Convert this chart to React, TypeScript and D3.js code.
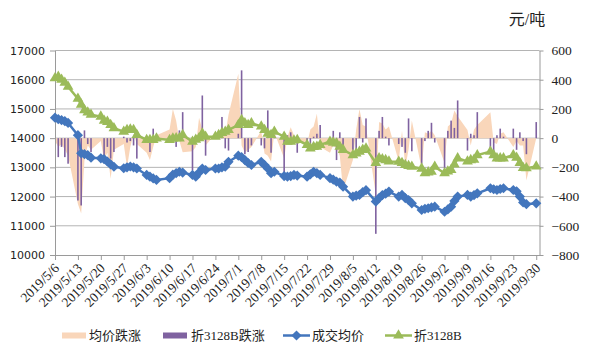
import React, { useEffect, useRef } from 'react';
import * as d3 from 'd3';

// trading days 2019/5/6 - 2019/9/30 (weekdays, minus holidays)
const startDate = new Date(2019, 4, 6);
const endDate = new Date(2019, 8, 30);
const holidays = ['2019-06-07', '2019-09-13'];
const fmtKey = d3.timeFormat('%Y-%m-%d');
const tradeDays = d3.timeDay
  .range(startDate, d3.timeDay.offset(endDate, 1))
  .filter((d) => d.getDay() !== 0 && d.getDay() !== 6 && !holidays.includes(fmtKey(d)));

// weekly tick labels
const tickDates = d3.timeMonday.range(startDate, d3.timeDay.offset(endDate, 1));

const leftTicks = [10000, 11000, 12000, 13000, 14000, 15000, 16000, 17000];
const rightTicks = [-800, -600, -400, -200, 0, 200, 400, 600];

// 成交均价 (left axis)
const avgPrice = [
  14700, 14650, 14620, 14580, 14520,
  14100, 13480, 13450, 13420, 13330,
  13310, 13280, 13200, 13100, 13020,
  12970, 13000, 13030, 13000, 12960,
  12740, 12680, 12620, 12570,
  12630, 12750, 12800, 12850, 12820,
  12740, 12680, 12820, 12960, 12910,
  12960, 12960, 13000, 13020, 13190,
  13400, 13350, 13250, 13150, 13080,
  13190, 13080, 12960, 12800, 12850,
  12700, 12680, 12700, 12740, 12720,
  12680, 12760, 12850, 12800, 12740,
  12630, 12580, 12510, 12480, 12340,
  12000, 12030, 12055, 12150, 12220,
  11830, 11950, 12050, 12100, 12170,
  12000, 12055, 11950, 11880, 11770,
  11540, 11580, 11600, 11630, 11655,
  11480, 11560, 11655, 11850, 12000,
  12055, 12000, 12050, 12110,
  12285, 12250, 12225, 12260, 12285,
  12225, 12180, 12000, 11800, 11740,
  11770,
];

// 折3128B (left axis)
const zhe3128B = [
  16050, 16100, 16000, 15900, 15760,
  15350, 15150, 14960, 14880, 14800,
  14740, 14600, 14560, 14450, 14340,
  14220, 14280, 14300, 14280, 14110,
  13940, 13940, 13940, 13990,
  13940, 13990, 14000, 13995, 14110,
  13880, 13950, 14000, 14160, 14050,
  14050, 14110, 14180, 14220, 14280,
  14450, 14620, 14510, 14450, 14510,
  14400, 14280, 14150, 14110, 14220,
  14050, 13880, 13880, 13920, 13940,
  13770, 13650, 13700, 13710, 13770,
  13880, 13850, 13820, 13710, 13600,
  13420, 13480, 13540, 13600, 13650,
  13150, 13310, 13280, 13250, 13200,
  13195, 13150, 13080, 13050, 13020,
  12960, 12800, 12830, 12850, 13020,
  12800, 12860, 12910, 13100, 13310,
  13200, 13250, 13260, 13420,
  13540, 13420, 13310, 13310, 13310,
  13420, 13330, 13150, 12980, 12970,
  13030,
];

// 均价跌涨 (right axis, area)
const avgChange = [
  -20, -60, -40, -80, -120,
  -450, -516, -150, -50, -80,
  -20, -150, -100, -278, -80,
  -40, -200, -60, 30, -40,
  -100, -150, -60, 20,
  60, 200, 120, -20, -96,
  -90, -60, 140, 60, -50,
  30, 10, 40, 20, 160,
  441, -50, -100, -80, -60,
  50, -105, -120, -160, 40,
  -140, 10, 75, 20, -30,
  -40, 60, 80, 167, -60,
  -100, -50, -70, -120, -358,
  -150, 60, 200, 90, 80,
  -390, 110, 100, 60, 80,
  -160, 50, -200, -80, 120,
  -210, 40, 30, 50, 20,
  -170, 80, 100, 190, 150,
  55, -50, 60, 90,
  178, -30, -40, 30, 40,
  -60, -20, -50, -50, -290,
  0,
];

// 折3128B跌涨 (right axis, bars)
const zheChange = [
  0, -130, -60, -130, -175,
  -427, -461, 53, -40, -95,
  0, -120, -60, -140, -95,
  10, -30, -20, -50, -140,
  0, -95, 65, 10,
  0, 10, -60, 53, 178,
  -221, 20, 30, 292, -120,
  0, 20, 145, -70, -85,
  30, 464, -110, -95, -50,
  -50, -70, 190, -100, 20,
  -240, 20, 40, -30, -100,
  -35, -50, 10, 30, 90,
  -40, 50, -150, 40, -60,
  -80, -100, 145, -30, 135,
  -655, 50, 145, 10, -50,
  -40, -60, -100, 135, -90,
  -176, -20, 50, 105, -30,
  -208, 50, 120, 70, 258,
  -85, 30, 20, 178,
  -100, -110, 20, 65, 10,
  65, -80, 40, -20, -110,
  110,
];

const BLUE = '#4376BD';
const GREEN = '#9BBB59';
const PURPLE = '#7F62A0';
const PEACH = '#F9D6BA';
const AXIS = '#9a9a9a';
const GRID = '#b4b4b4';
const SERIF = '"Liberation Serif", "Noto Sans CJK SC", serif';

const App: React.FC = () => {
  const svgRef = useRef<SVGSVGElement>(null);
  const width = 589;
  const height = 354;

  useEffect(() => {
    if (!svgRef.current) return;
    const svg = d3.select(svgRef.current);
    svg.selectAll('*').remove();

    const left = 55, right = 539.5, top = 50.5, bottom = 255;

    const x = d3.scaleTime().domain([startDate, new Date(2019, 9, 1)]).range([left, right]);
    const yL = d3.scaleLinear().domain([10000, 17000]).range([bottom, top]);
    const yR = d3.scaleLinear().domain([-800, 600]).range([bottom, top]);

    // gridlines
    svg.append('g')
      .selectAll('line')
      .data(leftTicks.slice(1))
      .enter()
      .append('line')
      .attr('x1', left)
      .attr('x2', right)
      .attr('y1', (d) => yL(d))
      .attr('y2', (d) => yL(d))
      .attr('stroke', GRID)
      .attr('stroke-width', 1);

    // area 均价跌涨
    const area = d3.area<number>()
      .x((_, i) => x(tradeDays[i]))
      .y0(yR(0))
      .y1((d) => yR(d));
    svg.append('path')
      .datum(avgChange)
      .attr('fill', PEACH)
      .attr('d', area);

    // bars 折3128B跌涨
    svg.append('g')
      .selectAll('rect')
      .data(zheChange)
      .enter()
      .append('rect')
      .attr('x', (_, i) => x(tradeDays[i]) - 0.8)
      .attr('width', 1.6)
      .attr('y', (d) => Math.min(yR(d), yR(0)))
      .attr('height', (d) => Math.abs(yR(d) - yR(0)))
      .attr('fill', PURPLE);

    // axes
    const leftAxis = svg.append('g')
      .attr('transform', `translate(${left},0)`)
      .call(d3.axisLeft(yL).tickValues(leftTicks).tickFormat(d3.format('d')).tickSize(5).tickSizeOuter(0).tickPadding(5));
    leftAxis.select('.domain').attr('stroke', AXIS);
    leftAxis.selectAll('.tick line').attr('stroke', AXIS);
    leftAxis.selectAll('.tick text')
      .attr('fill', '#222')
      .attr('font-size', '11px')
      .attr('font-family', '"DejaVu Sans", sans-serif');

    const rightAxis = svg.append('g')
      .attr('transform', `translate(${right},0)`)
      .call(d3.axisRight(yR).tickValues(rightTicks).tickSize(4).tickSizeOuter(0).tickPadding(8));
    rightAxis.select('.domain').attr('stroke', AXIS);
    rightAxis.selectAll('.tick line').attr('stroke', AXIS);
    rightAxis.selectAll('.tick text')
      .attr('fill', '#222')
      .attr('font-size', '13.5px')
      .attr('font-family', SERIF);

    const bottomAxis = svg.append('g')
      .attr('transform', `translate(0,${bottom})`)
      .call(d3.axisBottom(x).tickValues(tickDates).tickSize(5).tickSizeOuter(0).tickFormat(() => ''));
    bottomAxis.select('.domain').attr('stroke', AXIS);
    bottomAxis.selectAll('.tick line').attr('stroke', AXIS);

    const fmtTick = d3.timeFormat('%Y/%-m/%-d');
    svg.append('g')
      .selectAll('text')
      .data(tickDates)
      .enter()
      .append('text')
      .attr('transform', (d) => `translate(${x(d) + 5},${bottom + 14}) rotate(-45)`)
      .attr('text-anchor', 'end')
      .attr('font-size', '13.5px')
      .attr('font-family', SERIF)
      .attr('fill', '#222')
      .text((d) => fmtTick(d));

    // lines
    const lineL = d3.line<number>()
      .x((_, i) => x(tradeDays[i]))
      .y((d) => yL(d));

    const diamond = d3.symbol(d3.symbolSquare, 52);
    const triangle = d3.symbol(d3.symbolTriangle, 50);

    svg.append('path')
      .datum(avgPrice)
      .attr('fill', 'none')
      .attr('stroke', BLUE)
      .attr('stroke-width', 2.5)
      .attr('d', lineL);
    svg.append('g')
      .selectAll('path')
      .data(avgPrice)
      .enter()
      .append('path')
      .attr('d', diamond)
      .attr('transform', (d, i) => `translate(${x(tradeDays[i])},${yL(d)}) rotate(45)`)
      .attr('fill', BLUE);

    svg.append('path')
      .datum(zhe3128B)
      .attr('fill', 'none')
      .attr('stroke', GREEN)
      .attr('stroke-width', 2.5)
      .attr('d', lineL);
    svg.append('g')
      .selectAll('path')
      .data(zhe3128B)
      .enter()
      .append('path')
      .attr('d', triangle)
      .attr('transform', (d, i) => `translate(${x(tradeDays[i])},${yL(d)})`)
      .attr('fill', GREEN);

    // unit
    svg.append('text')
      .attr('x', 527)
      .attr('y', 25)
      .attr('text-anchor', 'middle')
      .attr('font-size', '16px')
      .attr('font-family', SERIF)
      .attr('fill', '#222')
      .text('元/吨');

    // legend
    const ly = 335.5;
    const legend = svg.append('g').attr('font-size', '13px').attr('font-family', SERIF).attr('fill', '#222');
    legend.append('rect').attr('x', 62).attr('y', ly - 3).attr('width', 24).attr('height', 6).attr('fill', PEACH);
    legend.append('text').attr('x', 89).attr('y', ly + 4.5).text('均价跌涨');
    legend.append('rect').attr('x', 163).attr('y', ly - 3).attr('width', 24).attr('height', 6).attr('fill', PURPLE);
    legend.append('text').attr('x', 191).attr('y', ly + 4.5).text('折3128B跌涨');
    legend.append('line').attr('x1', 283).attr('x2', 310).attr('y1', ly).attr('y2', ly).attr('stroke', BLUE).attr('stroke-width', 2.5);
    legend.append('path').attr('d', diamond).attr('transform', `translate(296.5,${ly}) rotate(45)`).attr('fill', BLUE);
    legend.append('text').attr('x', 312).attr('y', ly + 4.5).text('成交均价');
    legend.append('line').attr('x1', 385).attr('x2', 412).attr('y1', ly).attr('y2', ly).attr('stroke', GREEN).attr('stroke-width', 2.5);
    legend.append('path').attr('d', triangle).attr('transform', `translate(398.5,${ly})`).attr('fill', GREEN);
    legend.append('text').attr('x', 414).attr('y', ly + 4.5).text('折3128B');
  }, []);

  return (
    <div style={{ position: 'absolute', left: 0, top: 0 }}>
      <svg ref={svgRef} width={width} height={height} style={{ display: 'block', background: '#fff' }} />
    </div>
  );
};

export default App;
